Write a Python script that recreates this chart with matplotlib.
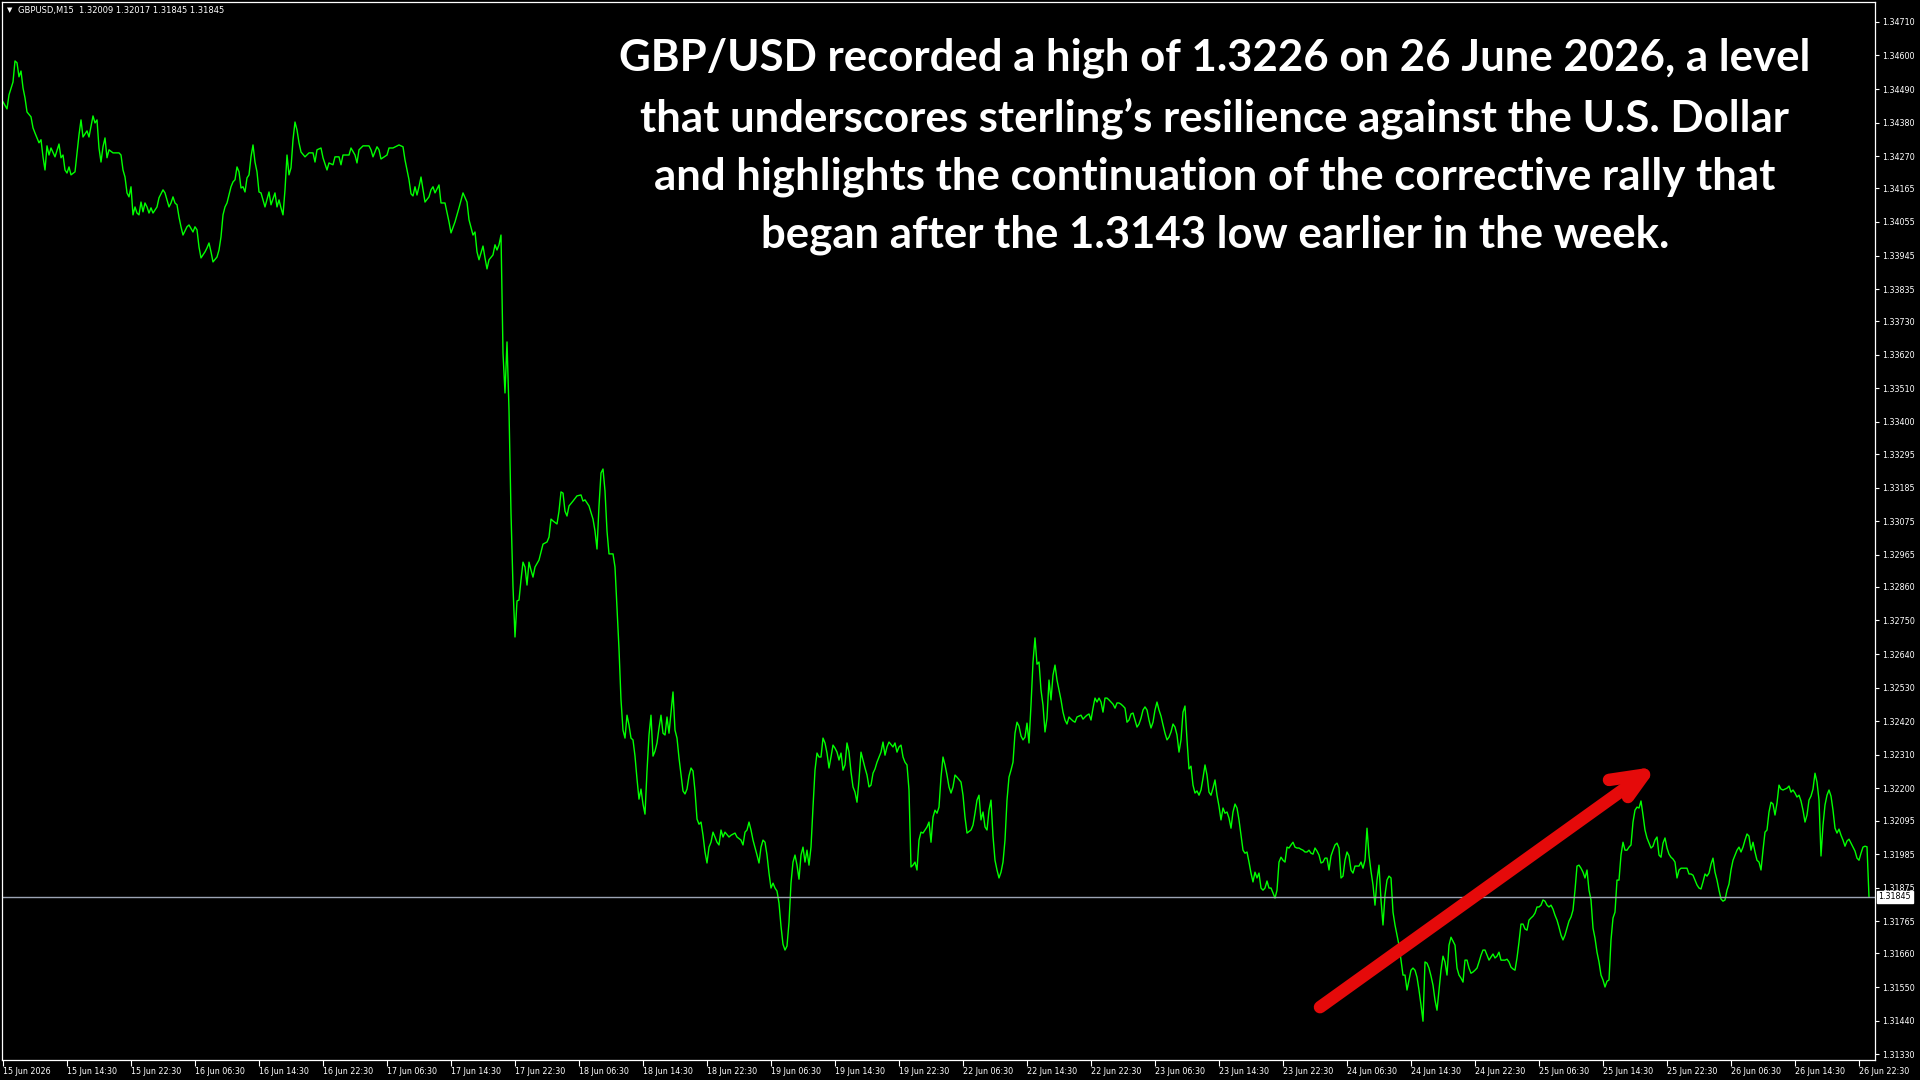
import matplotlib
matplotlib.use("Agg")
import matplotlib.pyplot as plt

# GBPUSD M15 closes (bar number counted from 15 Jun 06:30)
bars_a = [0, 2, 3, 5, 6, 7, 8, 9, 10, 11,
          12, 14, 15, 16, 18, 19, 20, 21, 22, 23,
          24, 26, 28, 29, 30, 31, 32, 33, 34, 36,
          37, 38, 39, 40, 42, 43, 45, 46, 47, 48,
          49, 50, 51, 52, 53, 55, 58, 59, 60, 61,
          62, 63, 64, 65, 66, 67, 68, 69, 70, 71,
          72, 73, 74, 75, 77, 78, 80, 81, 83, 84,
          85, 86, 87, 88, 89, 90, 92, 93, 95, 96,
          97, 98, 99, 101, 102, 103, 104, 105, 107, 108,
          109, 110, 111, 112, 114, 115, 116, 117, 118, 119,
          120, 121, 122, 123, 124, 125, 126, 127, 128, 129,
          131, 133, 134, 136, 137, 138, 139, 140, 141, 142,
          143, 144, 145, 146, 147, 148, 149, 151, 153, 155,
          156, 157, 159, 160, 162, 163, 165, 166, 168, 169,
          170, 173, 174, 176, 177, 178, 180, 183, 184, 185,
          187, 188, 189, 192, 193, 195, 198, 200, 201, 203,
          204, 205, 206, 207, 208, 209, 210, 211, 213, 214,
          215, 216, 218, 219, 221, 223, 224, 226, 228, 230,
          232, 233, 235, 236, 237, 238, 239, 240, 241, 242,
          243, 245, 246, 247, 248, 249]
close_a = [1.34448, 1.34425, 1.34471, 1.34513, 1.34582, 1.34576, 1.34530, 1.34549, 1.34494, 1.34461,
           1.34415, 1.34399, 1.34363, 1.34346, 1.34314, 1.34324, 1.34268, 1.34225, 1.34304, 1.34274,
           1.34297, 1.34268, 1.34310, 1.34265, 1.34274, 1.34225, 1.34215, 1.34235, 1.34209, 1.34219,
           1.34281, 1.34340, 1.34389, 1.34333, 1.34353, 1.34333, 1.34402, 1.34379, 1.34389, 1.34297,
           1.34251, 1.34301, 1.34330, 1.34265, 1.34291, 1.34281, 1.34281, 1.34274, 1.34225, 1.34202,
           1.34150, 1.34137, 1.34170, 1.34078, 1.34104, 1.34084, 1.34078, 1.34120, 1.34088, 1.34117,
           1.34104, 1.34084, 1.34101, 1.34084, 1.34104, 1.34134, 1.34160, 1.34150, 1.34104, 1.34117,
           1.34137, 1.34117, 1.34111, 1.34071, 1.34039, 1.34012, 1.34039, 1.34045, 1.34022, 1.34039,
           1.34029, 1.33973, 1.33937, 1.33957, 1.33970, 1.33986, 1.33957, 1.33924, 1.33940, 1.33963,
           1.34006, 1.34078, 1.34104, 1.34117, 1.34170, 1.34186, 1.34193, 1.34235, 1.34219, 1.34166,
           1.34170, 1.34153, 1.34199, 1.34209, 1.34268, 1.34307, 1.34251, 1.34219, 1.34153, 1.34150,
           1.34104, 1.34153, 1.34111, 1.34150, 1.34104, 1.34127, 1.34101, 1.34078, 1.34160, 1.34274,
           1.34209, 1.34232, 1.34324, 1.34382, 1.34356, 1.34314, 1.34284, 1.34268, 1.34281, 1.34281,
           1.34251, 1.34291, 1.34297, 1.34265, 1.34225, 1.34248, 1.34242, 1.34268, 1.34268, 1.34242,
           1.34274, 1.34274, 1.34297, 1.34274, 1.34248, 1.34291, 1.34304, 1.34304, 1.34291, 1.34268,
           1.34301, 1.34291, 1.34261, 1.34274, 1.34297, 1.34297, 1.34307, 1.34301, 1.34258, 1.34193,
           1.34147, 1.34140, 1.34170, 1.34143, 1.34170, 1.34202, 1.34160, 1.34120, 1.34137, 1.34160,
           1.34170, 1.34150, 1.34176, 1.34117, 1.34117, 1.34055, 1.34019, 1.34055, 1.34101, 1.34150,
           1.34120, 1.34062, 1.34012, 1.34022, 1.33957, 1.33931, 1.33953, 1.33976, 1.33937, 1.33901,
           1.33931, 1.33947, 1.33980, 1.33963, 1.33980, 1.34012]

bars_b = [250, 251, 252, 253, 254, 255, 256, 257, 258, 259,
          260, 261, 262, 263, 264, 265, 266, 268, 270, 272,
          273, 274, 275, 277, 278, 279, 280, 281, 282, 283,
          285, 287, 289, 290, 291, 293, 295, 296, 297, 298,
          299, 300, 301, 302, 303, 305, 306, 307, 308, 309,
          310, 311, 312, 313, 314, 315, 316, 317, 318, 319,
          320, 321, 322, 323, 324, 325, 326, 327, 328, 329,
          330, 331, 332, 333, 334, 335, 336, 337, 338, 339,
          340, 341, 342, 343, 344, 345, 346, 347, 348, 349,
          350, 351, 352, 353, 354, 355, 356, 357, 358, 359,
          360, 361, 363, 364, 366, 367, 369, 370, 371, 372,
          373, 374, 375, 377, 378, 379, 380, 381, 382, 383,
          384, 385, 386, 387, 388, 389, 390, 391, 392, 393,
          394, 395, 396, 397, 398, 399, 400, 401, 402, 403,
          404, 405, 406, 407, 408, 409, 410, 411, 412, 413,
          414, 415, 416, 417, 418, 419, 420, 421, 422, 423,
          424, 425, 426, 427, 428, 429, 430, 431, 432, 433,
          434, 435, 436, 437, 439, 440, 441, 442, 443, 445,
          446, 447, 448, 449, 450, 451, 452, 453, 454, 455,
          456, 457, 458, 459, 460, 462, 463, 464]
close_b = [1.33626, 1.33495, 1.33662, 1.33439, 1.33102, 1.32860, 1.32696, 1.32814, 1.32817, 1.32883,
           1.32941, 1.32925, 1.32866, 1.32941, 1.32915, 1.32892, 1.32925, 1.32948, 1.33000, 1.33007,
           1.33023, 1.33082, 1.33076, 1.33066, 1.33108, 1.33171, 1.33167, 1.33108, 1.33092, 1.33125,
           1.33141, 1.33158, 1.33161, 1.33141, 1.33145, 1.33125, 1.33082, 1.33043, 1.32984, 1.33125,
           1.33233, 1.33246, 1.33174, 1.33043, 1.32968, 1.32968, 1.32925, 1.32791, 1.32657, 1.32490,
           1.32391, 1.32365, 1.32440, 1.32408, 1.32365, 1.32359, 1.32306, 1.32231, 1.32165, 1.32198,
           1.32149, 1.32116, 1.32257, 1.32375, 1.32440, 1.32306, 1.32322, 1.32349, 1.32398, 1.32440,
           1.32381, 1.32375, 1.32434, 1.32381, 1.32450, 1.32516, 1.32391, 1.32365, 1.32300, 1.32247,
           1.32192, 1.32182, 1.32198, 1.32241, 1.32267, 1.32257, 1.32192, 1.32100, 1.32083, 1.32090,
           1.32047, 1.31992, 1.31956, 1.32008, 1.32024, 1.32057, 1.32041, 1.32024, 1.32015, 1.32064,
           1.32041, 1.32057, 1.32041, 1.32047, 1.32054, 1.32041, 1.32031, 1.32015, 1.32057, 1.32064,
           1.32090, 1.32064, 1.32031, 1.31982, 1.31956, 1.32008, 1.32031, 1.32024, 1.31982, 1.31923,
           1.31874, 1.31890, 1.31874, 1.31864, 1.31825, 1.31749, 1.31690, 1.31671, 1.31684, 1.31762,
           1.31890, 1.31959, 1.31982, 1.31949, 1.31903, 1.31982, 1.32008, 1.31959, 1.31998, 1.31949,
           1.32008, 1.32139, 1.32260, 1.32316, 1.32303, 1.32303, 1.32365, 1.32349, 1.32316, 1.32267,
           1.32303, 1.32342, 1.32332, 1.32319, 1.32293, 1.32316, 1.32260, 1.32277, 1.32349, 1.32319,
           1.32254, 1.32205, 1.32188, 1.32155, 1.32228, 1.32319, 1.32293, 1.32267, 1.32244, 1.32205,
           1.32211, 1.32250, 1.32264, 1.32286, 1.32319, 1.32352, 1.32309, 1.32336, 1.32352, 1.32336,
           1.32349, 1.32319, 1.32336, 1.32342, 1.32303, 1.32286, 1.32277, 1.32195, 1.31943, 1.31949,
           1.31959, 1.31933, 1.32031, 1.32057, 1.32054, 1.32074, 1.32090, 1.32024]

bars_c = [465, 466, 467, 468, 469, 470, 471, 472, 473, 474, 475, 476, 477,
          479, 480, 481, 482] + list(range(484, 934))
close_c = [1.32106, 1.32129, 1.32119, 1.32139, 1.32237, 1.32303, 1.32277, 1.32244, 1.32205, 1.32185,
           1.32205, 1.32244, 1.32237,
           1.32221, 1.32178, 1.32106, 1.32054,
           1.32064, 1.32080, 1.32119, 1.32162, 1.32178, 1.32097, 1.32123, 1.32074, 1.32064, 1.32129,
           1.32162, 1.32044, 1.31965, 1.31933, 1.31907, 1.31926, 1.31959, 1.32031, 1.32162, 1.32237,
           1.32260, 1.32286, 1.32381, 1.32417, 1.32404, 1.32372, 1.32359, 1.32368, 1.32414, 1.32349,
           1.32473, 1.32614, 1.32693, 1.32607, 1.32614, 1.32522, 1.32473, 1.32385, 1.32430, 1.32555,
           1.32490, 1.32571, 1.32604, 1.32555, 1.32522, 1.32490, 1.32450, 1.32424, 1.32411, 1.32434,
           1.32427, 1.32421, 1.32417, 1.32434, 1.32437, 1.32440, 1.32427, 1.32434, 1.32440, 1.32444,
           1.32424, 1.32463, 1.32496, 1.32483, 1.32496, 1.32483, 1.32450, 1.32496, 1.32496, 1.32490,
           1.32483, 1.32476, 1.32463, 1.32480, 1.32480, 1.32476, 1.32470, 1.32463, 1.32417, 1.32424,
           1.32444, 1.32447, 1.32424, 1.32401, 1.32411, 1.32430, 1.32457, 1.32467, 1.32457, 1.32424,
           1.32398, 1.32417, 1.32457, 1.32483, 1.32457, 1.32437, 1.32408, 1.32381, 1.32359, 1.32368,
           1.32385, 1.32411, 1.32401, 1.32375, 1.32319, 1.32359, 1.32450, 1.32470, 1.32359, 1.32264,
           1.32273, 1.32211, 1.32185, 1.32192, 1.32178, 1.32195, 1.32234, 1.32277, 1.32244, 1.32188,
           1.32178, 1.32201, 1.32228, 1.32178, 1.32142, 1.32097, 1.32136, 1.32119, 1.32123, 1.32103,
           1.32070, 1.32123, 1.32149, 1.32136, 1.32097, 1.32047, 1.31998, 1.31988, 1.31992, 1.31959,
           1.31923, 1.31894, 1.31926, 1.31907, 1.31923, 1.31874, 1.31867, 1.31874, 1.31897, 1.31874,
           1.31874, 1.31858, 1.31841, 1.31867, 1.31959, 1.31975, 1.31965, 1.31959, 1.32008, 1.32005,
           1.32015, 1.32024, 1.32008, 1.32005, 1.32005, 1.32001, 1.31998, 1.31992, 1.31992, 1.31998,
           1.31988, 1.31985, 1.32005, 1.31995, 1.31982, 1.31956, 1.31959, 1.31972, 1.31972, 1.31933,
           1.31979, 1.31998, 1.32015, 1.32021, 1.32005, 1.31907, 1.31913, 1.31965, 1.31992, 1.31979,
           1.31933, 1.31923, 1.31946, 1.31946, 1.31946, 1.31959, 1.31939, 1.31965, 1.32070, 1.31982,
           1.31929, 1.31884, 1.31818, 1.31900, 1.31949, 1.31835, 1.31753, 1.31851, 1.31900, 1.31913,
           1.31907, 1.31795, 1.31753, 1.31720, 1.31687, 1.31638, 1.31589, 1.31589, 1.31540, 1.31573,
           1.31605, 1.31612, 1.31605, 1.31582, 1.31540, 1.31491, 1.31438, 1.31632, 1.31628, 1.31612,
           1.31586, 1.31556, 1.31507, 1.31474, 1.31540, 1.31605, 1.31651, 1.31632, 1.31589, 1.31687,
           1.31713, 1.31700, 1.31687, 1.31612, 1.31589, 1.31579, 1.31566, 1.31638, 1.31638, 1.31612,
           1.31595, 1.31599, 1.31605, 1.31612, 1.31632, 1.31654, 1.31671, 1.31671, 1.31654, 1.31638,
           1.31648, 1.31658, 1.31645, 1.31651, 1.31664, 1.31638, 1.31638, 1.31638, 1.31641, 1.31632,
           1.31615, 1.31609, 1.31605, 1.31645, 1.31697, 1.31756, 1.31756, 1.31740, 1.31736, 1.31769,
           1.31776, 1.31782, 1.31792, 1.31812, 1.31812, 1.31818, 1.31835, 1.31831, 1.31818, 1.31812,
           1.31818, 1.31805, 1.31785, 1.31769, 1.31746, 1.31720, 1.31704, 1.31720, 1.31743, 1.31766,
           1.31779, 1.31802, 1.31867, 1.31946, 1.31949, 1.31939, 1.31926, 1.31907, 1.31933, 1.31867,
           1.31835, 1.31743, 1.31710, 1.31664, 1.31632, 1.31589, 1.31573, 1.31550, 1.31569, 1.31573,
           1.31704, 1.31776, 1.31795, 1.31900, 1.31900, 1.31982, 1.32024, 1.31998, 1.31998, 1.32008,
           1.32015, 1.32090, 1.32129, 1.32139, 1.32136, 1.32159, 1.32113, 1.32064, 1.32038, 1.32021,
           1.32005, 1.32011, 1.32031, 1.32041, 1.31982, 1.31975, 1.32021, 1.32038, 1.32005, 1.31985,
           1.31975, 1.31969, 1.31959, 1.31907, 1.31933, 1.31939, 1.31939, 1.31939, 1.31939, 1.31920,
           1.31920, 1.31916, 1.31900, 1.31884, 1.31874, 1.31871, 1.31894, 1.31920, 1.31913, 1.31923,
           1.31952, 1.31972, 1.31926, 1.31900, 1.31867, 1.31838, 1.31831, 1.31835, 1.31867, 1.31887,
           1.31933, 1.31965, 1.31982, 1.31998, 1.32008, 1.31992, 1.32008, 1.32031, 1.32051, 1.32044,
           1.31998, 1.32024, 1.31992, 1.31965, 1.31959, 1.31933, 1.31998, 1.32057, 1.32064, 1.32123,
           1.32155, 1.32149, 1.32113, 1.32152, 1.32211, 1.32198, 1.32195, 1.32198, 1.32201, 1.32208,
           1.32188, 1.32195, 1.32185, 1.32172, 1.32178, 1.32159, 1.32129, 1.32090, 1.32113, 1.32162,
           1.32175, 1.32198, 1.32250, 1.32221, 1.32162, 1.31979, 1.32080, 1.32146, 1.32178, 1.32195,
           1.32175, 1.32129, 1.32070, 1.32054, 1.32067, 1.32047, 1.32031, 1.32011, 1.32028, 1.32034,
           1.32021, 1.32008, 1.31995, 1.31972, 1.31965, 1.31988, 1.32008, 1.32011, 1.32009, 1.31845]

bars = bars_a + bars_b + bars_c
closes = close_a + close_b + close_c

header = "GBPUSD,M15  1.32009 1.32017 1.31845 1.31845"
last_price = 1.31845

price_labels = ["1.34710", "1.34600", "1.34490", "1.34380", "1.34270", "1.34165", "1.34055",
                "1.33945", "1.33835", "1.33730", "1.33620", "1.33510", "1.33400", "1.33295",
                "1.33185", "1.33075", "1.32965", "1.32860", "1.32750", "1.32640", "1.32530",
                "1.32420", "1.32310", "1.32200", "1.32095", "1.31985", "1.31875", "1.31765",
                "1.31660", "1.31550", "1.31440", "1.31330"]
time_labels = ["15 Jun 2026", "15 Jun 14:30", "15 Jun 22:30", "16 Jun 06:30", "16 Jun 14:30",
               "16 Jun 22:30", "17 Jun 06:30", "17 Jun 14:30", "17 Jun 22:30", "18 Jun 06:30",
               "18 Jun 14:30", "18 Jun 22:30", "19 Jun 06:30", "19 Jun 14:30", "19 Jun 22:30",
               "22 Jun 06:30", "22 Jun 14:30", "22 Jun 22:30", "23 Jun 06:30", "23 Jun 14:30",
               "23 Jun 22:30", "24 Jun 06:30", "24 Jun 14:30", "24 Jun 22:30", "25 Jun 06:30",
               "25 Jun 14:30", "25 Jun 22:30", "26 Jun 06:30", "26 Jun 14:30", "26 Jun 22:30"]
bars_per_label = 32

headline = ["GBP/USD recorded a high of 1.3226 on 26 June 2026, a level",
            "that underscores sterling\u2019s resilience against the U.S. Dollar",
            "and highlights the continuation of the corrective rally that",
            "began after the 1.3143 low earlier in the week."]

# red arrow drawn on the chart (bar, price)
arrow_tail = (658.5, 1.31484)
arrow_tip = (820.5, 1.32245)
arrow_arm1 = (803.0, 1.32228)
arrow_arm2 = (812.5, 1.32172)

W, H = 1920, 1080
fig = plt.figure(figsize=(19.2, 10.8), dpi=100, facecolor="black")
ax = fig.add_axes([2 / W, 20 / H, 1873 / W, 1058 / H])
ax.set_facecolor("black")

ax.plot(bars, closes, "-", color="#00FF00", linewidth=1.0)
ax.axhline(last_price, color="#9CA4B4", linewidth=1.0)

ax.set_xlim(-0.5, 936)
ax.set_ylim(1.31311, 1.34775)

for s in ax.spines.values():
    s.set_color("white")
    s.set_linewidth(0.9)

# price scale on the right
ax.yaxis.tick_right()
ax.set_yticks([float(p) for p in price_labels])
ax.set_yticklabels(price_labels)
ax.tick_params(axis="y", direction="out", length=3, width=0.8, color="white",
               labelcolor="white", labelsize=5.8, pad=2)

# time scale
ax.set_xticks([bars_per_label * k for k in range(len(time_labels))])
ax.set_xticklabels(time_labels)
for lbl in ax.get_xticklabels():
    lbl.set_horizontalalignment("left")
ax.tick_params(axis="x", direction="out", length=4, width=0.8, color="white",
               labelcolor="white", labelsize=5.8, pad=1)

# current price box
ax.annotate(f"{last_price:.5f}", xy=(1, last_price), xycoords=("axes fraction", "data"),
            xytext=(2.5, 0), textcoords="offset points", ha="left", va="center",
            fontsize=5.8, color="black",
            bbox=dict(boxstyle="square,pad=0.2", fc="white", ec="white"))

# header top left
fig.text(7 / W, 1 - 10 / H, "\u25bc", fontsize=5, color="white", va="center")
fig.text(18 / W, 1 - 10 / H, header, fontsize=6, color="white", va="center")

# red arrow
ax.plot([arrow_tail[0], arrow_tip[0]], [arrow_tail[1], arrow_tip[1]], color="#E50A0A",
        linewidth=9, solid_capstyle="round")
ax.plot([arrow_arm1[0], arrow_tip[0], arrow_arm2[0]], [arrow_arm1[1], arrow_tip[1], arrow_arm2[1]],
        color="#E50A0A", linewidth=9, solid_capstyle="round", solid_joinstyle="round")

# headline text
line_y = [58, 118, 177, 235]
for txt, y in zip(headline, line_y):
    fig.text(1215 / W, 1 - y / H, txt, fontsize=31.5, fontweight="bold", color="white",
             ha="center", va="center", family=["Lato", "DejaVu Sans"])

fig.savefig("out.png", dpi=100, facecolor="black")
